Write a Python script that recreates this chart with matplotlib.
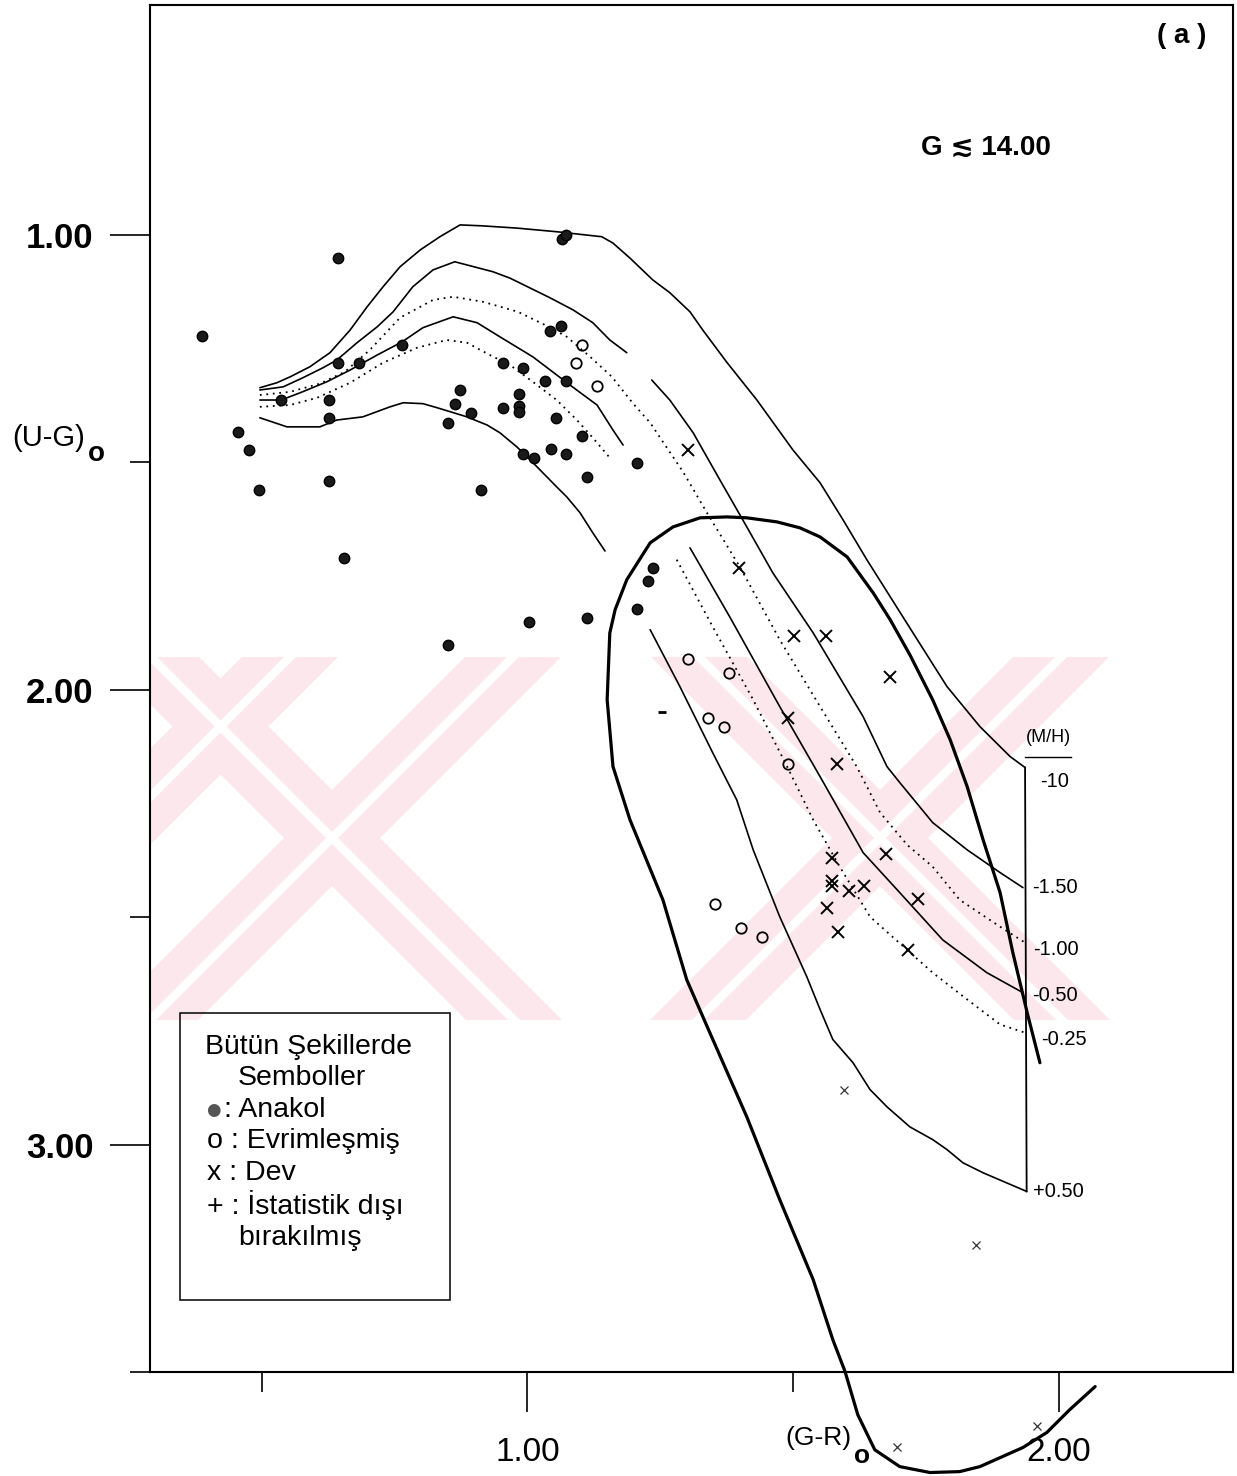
import matplotlib
matplotlib.use("Agg")
import matplotlib.pyplot as plt
from matplotlib.lines import Line2D
from matplotlib.patches import Rectangle, Polygon

plt.rcParams['font.family'] = ['Liberation Sans', 'DejaVu Sans']

# ---------------- data ----------------
# filled dots : Anakol (main sequence)
anakol_x = [0.387, 0.643, 0.643, 0.683, 0.764, 0.536, 0.626, 0.626, 0.455, 0.476,
            0.494, 0.626, 0.654, 0.850, 0.850, 1.065, 1.072, 1.042, 1.063, 0.954,
            0.991, 1.033, 1.072, 0.873, 0.863, 0.894, 0.954, 0.984, 0.984, 0.984,
            1.054, 1.103, 0.991, 1.012, 1.044, 1.072, 1.206, 1.112, 0.912, 1.003,
            1.112, 1.236, 1.227, 1.206]
anakol_y = [1.222, 1.051, 1.281, 1.281, 1.242, 1.363, 1.363, 1.402, 1.433, 1.473,
            1.560, 1.541, 1.710, 1.413, 1.901, 1.009, 1.000, 1.211, 1.200, 1.281,
            1.292, 1.321, 1.321, 1.341, 1.371, 1.391, 1.380, 1.349, 1.376, 1.389,
            1.402, 1.442, 1.481, 1.490, 1.470, 1.481, 1.501, 1.532, 1.560, 1.851,
            1.842, 1.732, 1.761, 1.822]

# open circles : Evrimlesmis (evolved)
evrim_x = [1.103, 1.091, 1.131, 1.302, 1.379, 1.340, 1.370, 1.490, 1.353, 1.402, 1.442]
evrim_y = [1.242, 1.281, 1.332, 1.932, 1.963, 2.062, 2.081, 2.163, 2.470, 2.523, 2.543]

# crosses : Dev (giants)
dev_x = [1.302, 1.398, 1.502, 1.562, 1.683, 1.490, 1.583, 1.675, 1.573, 1.573,
         1.573, 1.605, 1.634, 1.735, 1.564, 1.585, 1.716]
dev_y = [1.473, 1.732, 1.881, 1.881, 1.972, 2.062, 2.163, 2.361, 2.369, 2.420,
         2.431, 2.442, 2.431, 2.459, 2.479, 2.532, 2.572]
# faint small crosses
dev_faint_x = [1.596, 1.844, 1.696, 1.959]
dev_faint_y = [2.881, 3.220, 3.664, 3.618]

# excluded mark
excl_x = [1.253]
excl_y = [2.048]

# metallicity (M/H) lines
mh_m10_x = [0.496, 0.528, 0.553, 0.590, 0.628, 0.666, 0.698, 0.728, 0.760, 0.798,
            0.835, 0.873, 0.914, 0.980, 1.055, 1.140, 1.161, 1.193, 1.236, 1.268,
            1.306, 1.330, 1.376, 1.432, 1.500, 1.551, 1.594, 1.639, 1.726, 1.790,
            1.852, 1.909, 1.937]
mh_m10_y = [1.336, 1.325, 1.312, 1.290, 1.259, 1.209, 1.158, 1.114, 1.070, 1.033,
            1.004, 0.978, 0.980, 0.985, 0.993, 1.004, 1.018, 1.051, 1.099, 1.127,
            1.169, 1.209, 1.281, 1.363, 1.473, 1.545, 1.626, 1.714, 1.875, 1.993,
            2.081, 2.147, 2.171]

mh_m150_up_x = [0.496, 0.540, 0.577, 0.615, 0.641, 0.679, 0.717, 0.747, 0.784, 0.822,
                0.863, 0.935, 0.967, 1.042, 1.086, 1.123, 1.155, 1.187]
mh_m150_up_y = [1.341, 1.334, 1.314, 1.292, 1.275, 1.237, 1.202, 1.169, 1.114, 1.077,
                1.059, 1.081, 1.095, 1.138, 1.165, 1.193, 1.231, 1.259]
mh_m150_lo_x = [1.234, 1.268, 1.312, 1.362, 1.413, 1.462, 1.538, 1.632, 1.677, 1.701,
                1.763, 1.828, 1.890, 1.933]
mh_m150_lo_y = [1.319, 1.363, 1.435, 1.538, 1.642, 1.743, 1.875, 2.059, 2.169, 2.204,
                2.292, 2.352, 2.402, 2.435]

mh_m100_x = [0.496, 0.553, 0.609, 0.656, 0.703, 0.760, 0.822, 0.860, 0.916, 0.982,
             1.033, 1.074, 1.118, 1.159, 1.199, 1.231, 1.255, 1.293, 1.338, 1.400,
             1.475, 1.551, 1.620, 1.664, 1.715, 1.763, 1.814, 1.890, 1.937]
mh_m100_y = [1.352, 1.345, 1.327, 1.301, 1.253, 1.182, 1.143, 1.136, 1.147, 1.169,
             1.198, 1.224, 1.268, 1.312, 1.371, 1.413, 1.455, 1.521, 1.611, 1.730,
             1.890, 2.037, 2.169, 2.270, 2.341, 2.389, 2.462, 2.521, 2.556]

mh_m050_up_x = [0.496, 0.536, 0.572, 0.622, 0.666, 0.717, 0.764, 0.803, 0.860, 0.905,
                0.948, 1.010, 1.080, 1.131, 1.161, 1.180]
mh_m050_up_y = [1.363, 1.363, 1.347, 1.323, 1.297, 1.264, 1.235, 1.204, 1.180, 1.193,
                1.224, 1.268, 1.330, 1.374, 1.429, 1.462]
mh_m050_lo_x = [1.306, 1.381, 1.475, 1.551, 1.632, 1.701, 1.782, 1.865, 1.933]
mh_m050_lo_y = [1.688, 1.840, 2.037, 2.191, 2.358, 2.446, 2.550, 2.622, 2.666]

mh_m025_up_x = [0.496, 0.553, 0.604, 0.666, 0.728, 0.792, 0.848, 0.886, 0.929, 0.967,
                1.010, 1.055, 1.093, 1.123, 1.155]
mh_m025_up_y = [1.378, 1.374, 1.358, 1.325, 1.281, 1.248, 1.231, 1.237, 1.264, 1.286,
                1.323, 1.363, 1.407, 1.446, 1.490]
mh_m025_lo_x = [1.281, 1.349, 1.425, 1.489, 1.538, 1.588, 1.645, 1.715, 1.763, 1.828,
                1.890, 1.937]
mh_m025_lo_y = [1.714, 1.862, 2.022, 2.169, 2.286, 2.389, 2.499, 2.572, 2.622, 2.681,
                2.736, 2.754]

mh_p050_up_x = [0.496, 0.547, 0.609, 0.641, 0.690, 0.741, 0.766, 0.803, 0.830, 0.886,
                0.924, 0.948, 0.980, 1.018, 1.055, 1.074, 1.099, 1.123, 1.146]
mh_p050_up_y = [1.402, 1.422, 1.422, 1.407, 1.400, 1.378, 1.369, 1.371, 1.380, 1.400,
                1.418, 1.435, 1.466, 1.510, 1.554, 1.576, 1.611, 1.655, 1.695]
mh_p050_lo_x = [1.231, 1.287, 1.349, 1.394, 1.425, 1.475, 1.526, 1.551, 1.575, 1.613,
                1.645, 1.677, 1.720, 1.763, 1.790, 1.820, 1.858, 1.940]
mh_p050_lo_y = [1.868, 1.993, 2.139, 2.242, 2.352, 2.499, 2.631, 2.703, 2.769, 2.820,
                2.879, 2.917, 2.961, 2.989, 3.011, 3.040, 3.062, 3.103]

# M/H scale bar
mh_bar_x = [1.937, 1.940]
mh_bar_y = [2.171, 3.103]
mh_labels = ['-10', '-1.50', '-1.00', '-0.50', '-0.25', '+0.50']

# thick boundary loop
loop_x = [1.965, 1.941, 1.914, 1.890, 1.858, 1.828, 1.796, 1.763, 1.720, 1.683,
          1.651, 1.602, 1.551, 1.513, 1.470, 1.413, 1.376, 1.325, 1.274, 1.231,
          1.187, 1.165, 1.155, 1.150, 1.161, 1.193, 1.255, 1.300, 1.349, 1.413,
          1.475, 1.538, 1.575, 1.598, 1.622, 1.654, 1.701, 1.758, 1.814, 1.852,
          1.933, 1.978, 2.021, 2.069]
loop_y = [2.820, 2.710, 2.578, 2.446, 2.330, 2.213, 2.110, 2.022, 1.923, 1.846,
          1.787, 1.708, 1.664, 1.644, 1.631, 1.622, 1.620, 1.622, 1.642, 1.677,
          1.758, 1.824, 1.875, 2.022, 2.169, 2.286, 2.462, 2.638, 2.769, 2.939,
          3.121, 3.297, 3.429, 3.499, 3.594, 3.671, 3.708, 3.721, 3.719, 3.708,
          3.666, 3.633, 3.583, 3.532]

x_major = [1.0, 2.0]
x_major_labels = ['1.00', '2.00']
x_minor = [0.5, 1.5]
y_major = [1.0, 2.0, 3.0]
y_major_labels = ['1.00', '2.00', '3.00']
y_minor = [1.5, 2.5, 3.5]

legend_lines = ['Bütün Şekillerde', 'Semboller', ': Anakol', 'o : Evrimleşmiş',
                'x : Dev', '+ : İstatistik dışı', 'bırakılmış']

# ---------------- figure ----------------
W, H = 1237, 1476
fig = plt.figure(figsize=(W / 100, H / 100), dpi=100)
ax = fig.add_axes([150 / W, 1 - 1372 / H, (1233 - 150) / W, (1372 - 5) / H])
ax.set_xlim(0.2891, 2.3286)
ax.set_ylim(3.4989, 0.4945)


def fx(px):
    return px / W


def fy(py):
    return 1 - py / H


# faint pink background watermark (scan artefact), drawn behind everything
wm_clip = Rectangle((fx(150), fy(1020)), fx(1110) - fx(150), fy(657) - fy(1020),
                    transform=fig.transFigure, facecolor='none', edgecolor='none')
ax.add_patch(wm_clip)
wm_top, wm_bot, wm_mid = 657, 1020, 838
wm_arms = [(332, 1), (332, -1), (880, 1), (880, -1), (109, -1)]
for cx, sgn in wm_arms:
    for (a, b, col, z) in ((-48, 48, '#fce8ec', 0.1), (-6, 6, 'white', 0.2)):
        t = wm_top - wm_mid
        bt = wm_bot - wm_mid
        pts = [(cx + a + sgn * t, wm_top), (cx + b + sgn * t, wm_top),
               (cx + b + sgn * bt, wm_bot), (cx + a + sgn * bt, wm_bot)]
        poly = Polygon([(fx(p), fy(q)) for p, q in pts], closed=True,
                       transform=fig.transFigure, facecolor=col, edgecolor='none',
                       zorder=z)
        ax.add_patch(poly)
        poly.set_clip_path(wm_clip)

for sp in ax.spines.values():
    sp.set_linewidth(1.5)

ax.set_xticks(x_major)
ax.set_xticklabels(x_major_labels)
ax.set_xticks(x_minor, minor=True)
ax.set_yticks(y_major)
ax.set_yticklabels(y_major_labels)
ax.set_yticks(y_minor, minor=True)
ax.tick_params(which='major', direction='out', length=28.8, width=1.2)
ax.tick_params(which='minor', direction='out', length=14.4, width=1.2)
ax.tick_params(axis='x', which='major', pad=18, labelsize=24)
ax.tick_params(axis='y', which='major', pad=12, labelsize=25)
for t in ax.get_yticklabels():
    t.set_fontweight('bold')

solid = dict(color='black', lw=1.2, solid_capstyle='round')
dotted = dict(color='black', lw=1.3, linestyle=(0, (1, 2.6)))

ax.plot(mh_m10_x, mh_m10_y, **solid)
ax.plot(mh_m150_up_x, mh_m150_up_y, **solid)
ax.plot(mh_m150_lo_x, mh_m150_lo_y, **solid)
ax.plot(mh_m100_x, mh_m100_y, **dotted)
ax.plot(mh_m050_up_x, mh_m050_up_y, **solid)
ax.plot(mh_m050_lo_x, mh_m050_lo_y, **solid)
ax.plot(mh_m025_up_x, mh_m025_up_y, **dotted)
ax.plot(mh_m025_lo_x, mh_m025_lo_y, **dotted)
ax.plot(mh_p050_up_x, mh_p050_up_y, **solid)
ax.plot(mh_p050_lo_x, mh_p050_lo_y, **solid)
ax.plot(mh_bar_x, mh_bar_y, color='black', lw=1.3)

ax.plot(loop_x, loop_y, color='black', lw=2.3, clip_on=False, solid_capstyle='round')

ax.plot(anakol_x, anakol_y, linestyle='none', marker='o', ms=7.5,
        mfc='#1a1a1a', mec='black', mew=1.0)
ax.plot(evrim_x, evrim_y, linestyle='none', marker='o', ms=7.5,
        mfc='none', mec='black', mew=1.3)
ax.plot(dev_x, dev_y, linestyle='none', marker='x', ms=8, mec='black', mew=1.4)
ax.plot(dev_faint_x, dev_faint_y, linestyle='none', marker='x', ms=6, mec='#333333',
        mew=0.9, clip_on=False)
ax.plot(excl_x, excl_y, linestyle='none', marker='_', ms=6, mec='black', mew=2)

# M/H scale labels at line ends
mh_ends_y = [mh_m10_y[-1], mh_m150_lo_y[-1], mh_m100_y[-1], mh_m050_lo_y[-1],
             mh_m025_lo_y[-1], mh_p050_lo_y[-1]]
label_dx = [0.028, 0.013, 0.015, 0.013, 0.031, 0.015]
label_dy = [0.031, 0.0, 0.016, 0.006, 0.015, 0.0]
for lab, yv, dx, dy in zip(mh_labels, mh_ends_y, label_dx, label_dy):
    ax.text(mh_bar_x[0] + dx, yv + dy, lab, fontsize=14.5, va='center', ha='left')

fig.text(fx(1048), fy(738), '(M/H)', fontsize=13, ha='center', va='center')
fig.add_artist(Line2D([fx(1025), fx(1071)], [fy(757), fy(757)], color='black', lw=1.0))

# annotations
fig.text(fx(1182), fy(36), '( a )', fontsize=20, fontweight='bold', ha='center', va='center')
fig.text(fx(921), fy(148), 'G \u2272 14.00', fontsize=20, fontweight='bold',
         ha='left', va='center')

# axis titles
fig.text(fx(12), fy(438), '(U-G)', fontsize=21, ha='left', va='center')
fig.text(fx(96), fy(454), 'o', fontsize=20, fontweight='bold', ha='center', va='center')
fig.text(fx(785), fy(1438), '(G-R)', fontsize=19, ha='left', va='center')
fig.text(fx(862), fy(1456), 'o', fontsize=19, fontweight='bold', ha='center', va='center')

# legend box
fig.add_artist(Rectangle((fx(180), fy(1300)), fx(450) - fx(180), fy(1013) - fy(1300),
                         fill=False, edgecolor='black', lw=1.1, transform=fig.transFigure))
leg_pos = [(205, 1047), (238, 1078), (224, 1110), (207, 1141), (207, 1173), (207, 1205),
           (238, 1238)]
for txt, (px, py) in zip(legend_lines, leg_pos):
    fig.text(fx(px), fy(py), txt, fontsize=20.5, ha='left', va='center')
fig.text(fx(213), fy(1110), '\u25cf', fontsize=12, color='#555555', ha='center', va='center',
         family=['DejaVu Sans'])

fig.savefig('out.png', dpi=100)
